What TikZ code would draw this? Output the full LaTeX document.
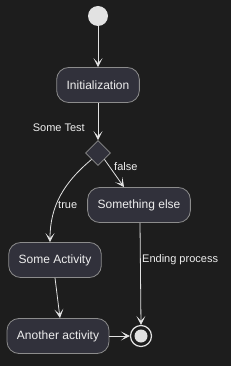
\documentclass[tikz,border=0pt]{standalone}
\usepackage{fontspec}
\setmainfont{Liberation Sans}
\usetikzlibrary{shapes.geometric, arrows.meta}
\definecolor{bgdark}{HTML}{1D1D1D}
\definecolor{boxfill}{HTML}{31313B}
\definecolor{boxline}{HTML}{8C8C8C}
\definecolor{flowline}{HTML}{E2E2E2}
\definecolor{txtlight}{HTML}{EEEEEE}
\tikzset{
    activity/.style={draw=boxline, fill=boxfill, rounded corners=12pt, line width=0.8pt,
        minimum height=35pt, inner xsep=10pt, text=txtlight, font=\fontsize{12}{14}\selectfont},
    choice/.style={diamond, draw=boxline, fill=boxfill, line width=0.8pt,
        minimum size=25pt, inner sep=0pt},
    flow/.style={draw=flowline, line width=0.8pt,
        -{Stealth[length=9pt, width=9pt, inset=5pt]}},
    guard/.style={text=txtlight, font=\fontsize{11}{13}\selectfont, inner sep=0pt}
}
\begin{document}
\begin{tikzpicture}[x=1pt, y=1pt]

    % Background
    \fill[bgdark] (0,0) rectangle (231,-366);
    \useasboundingbox (0,0) rectangle (231,-366);

    % Start point
    \node[circle, fill=flowline, minimum size=20pt, inner sep=0pt] (start) at (98,-16) {};

    % Activities
    \node[activity] (init) at (98,-85) {Initialization};
    \node[choice] (test) at (98,-153) {};
    \node[activity] (other) at (139,-205) {Something else};
    \node[activity] (some) at (55,-260) {Some Activity};
    \node[activity] (another) at (58,-336) {Another activity};

    % Final point
    \node[circle, draw=flowline, line width=1.2pt, minimum size=21pt, inner sep=0pt] (stop) at (141,-336) {};
    \node[circle, fill=flowline, minimum size=13pt, inner sep=0pt] (stopdot) at (stop.center) {};

    % Connectors
    \draw[flow] (start) -- (init);
    \draw[flow] (init) -- (test);
    \draw[flow] (test.south west) to[out=-140, in=90] ([xshift=-5pt]some.north);
    \draw[flow] (test.south east) -- ([xshift=-15pt]other.north);
    \draw[flow] ([xshift=1pt]other.south) -- (stop.north);
    \draw[flow] (some.south) -- ([xshift=2pt]another.north);
    \draw[flow] (another.east) -- (stop.west);

    % Guards
    \node[guard, anchor=east] (testlbl) at (85,-128) {Some Test};
    \node[guard, anchor=west] (falselbl) at (114,-167) {false};
    \node[guard, anchor=west] (truelbl) at (58,-205) {true};
    \node[guard, anchor=west] (endlbl) at (142,-260) {Ending process};

\end{tikzpicture}
\end{document}
